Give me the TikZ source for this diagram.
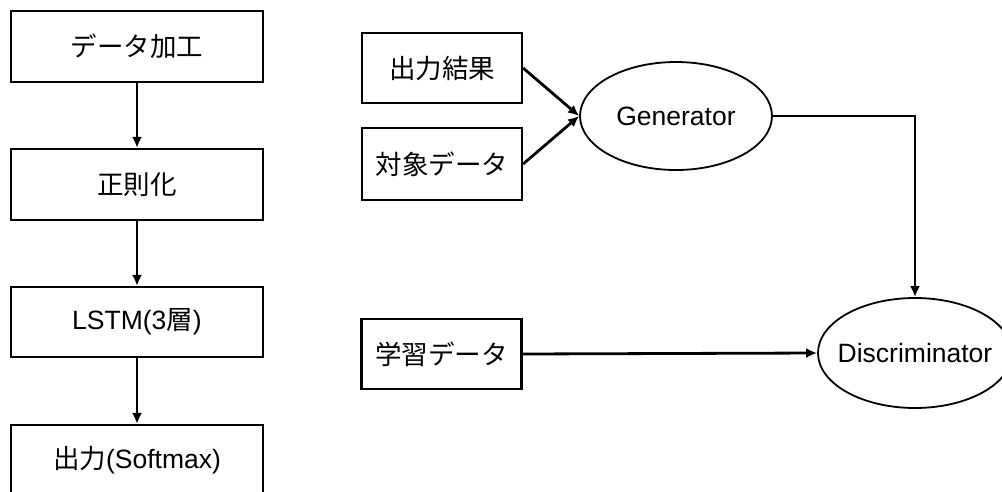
\documentclass[tikz,border=0pt]{standalone}
\usepackage{fontspec}
\setmainfont{Liberation Sans}
\newfontfamily\jp{Noto Sans CJK JP}
\usetikzlibrary{arrows.meta,shapes.geometric}
\tikzset{
  box/.style={draw,line width=2.2pt,rectangle,inner sep=0pt,font=\fontsize{26.5}{30}\selectfont},
  oval/.style={draw,line width=1.8pt,ellipse,inner sep=0pt,font=\fontsize{26.5}{30}\selectfont},
  conn/.style={line width=2.8pt,-{Latex[length=11pt,width=10pt]}},
}
\begin{document}
\begin{tikzpicture}[x=1pt,y=-1pt]
\useasboundingbox (0,0) rectangle (1002,491);
\clip (0,0) rectangle (1002,491);
% left column
\node[box,minimum width=252pt,minimum height=71pt] (b1) at (137,46.5) {\jp データ加工};
\node[box,minimum width=252pt,minimum height=71pt] (b2) at (137,184.5) {\jp 正則化};
\node[box,minimum width=252pt,minimum height=70pt] (b3) at (137,322) {LSTM(3{\jp 層})};
\node[box,minimum width=252pt,minimum height=71pt] (b4) at (137,460.5) {{\jp 出力}(Softmax)};
\draw[conn] (b1) -- (b2);
\draw[conn] (b2) -- (b3);
\draw[conn] (b3) -- (b4);
% right part
\node[box,minimum width=160pt,minimum height=70pt] (r1) at (442,68) {\jp 出力結果};
\node[box,minimum width=160pt,minimum height=72pt] (r2) at (442,164) {\jp 対象データ};
\node[box,minimum width=160pt,minimum height=70pt] (r3) at (441.5,354) {\jp 学習データ};
\node[oval,minimum width=192pt,minimum height=108pt] (gen) at (676,116) {\makebox[0pt]{Generator}};
\node[oval,minimum width=194pt,minimum height=110pt] (disc) at (915,353) {\makebox[0pt]{Discriminator}};
\draw[conn] (r1.east) -- (gen.west);
\draw[conn] (r2.east) -- (gen.west);
\draw[conn] (gen.east) -| (disc.north);
\draw[conn] (r3.east) -- (disc.west);
\end{tikzpicture}
\end{document}
